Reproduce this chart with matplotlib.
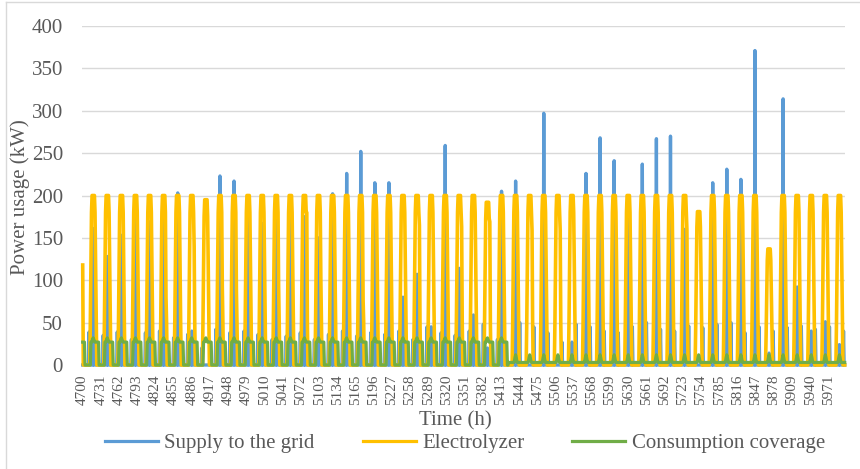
import numpy as np
import matplotlib.pyplot as plt
from matplotlib.lines import Line2D

plt.rcParams['font.family'] = ['Liberation Serif', 'DejaVu Serif']

# hourly axis
hours = np.arange(4700, 6000)

# values per day, first entry = day before 4700, then one per midday pulse
grid_peak = [0, 161, 128, 153, 183, 169, 193, 203, 40, 0, 223,
             217, 195, 167, 171, 195, 175, 150, 202, 226, 252,
             215, 215, 80, 107, 45, 259, 114, 59, 20, 205,
             217, 0, 297, 0, 27, 226, 268, 241, 172, 237,
             267, 270, 160, 0, 215, 231, 219, 371, 14, 314,
             92, 40, 51, 24]
grid_blip = [0, 39, 35, 39, 30, 38, 40, 32, 36, 20, 42,
             38, 40, 36, 30, 34, 38, 30, 36, 40, 34,
             38, 36, 40, 30, 45, 38, 35, 40, 48, 30,
             50, 45, 38, 27, 48, 45, 40, 38, 45, 50,
             42, 40, 46, 44, 48, 50, 38, 45, 40, 44,
             46, 42, 45, 40]
electro_peak = [200, 200, 200, 200, 200, 200, 200, 200, 200, 195, 200,
                200, 200, 200, 200, 200, 200, 200, 200, 200, 200,
                200, 200, 200, 200, 200, 200, 200, 200, 192, 200,
                200, 200, 200, 200, 200, 200, 200, 200, 200, 200,
                200, 200, 200, 181, 200, 200, 200, 200, 137, 200,
                200, 200, 200, 200]
electro_tail = [0, 0, 0, 114, 0, 0, 80, 110, 140, 0, 92,
                88, 0, 0, 92, 0, 180, 100, 0, 0, 77,
                0, 0, 0, 165, 0, 0, 163, 0, 169, 0,
                0, 159, 0, 159, 120, 0, 0, 0, 0, 0,
                0, 0, 160, 0, 0, 0, 0, 0, 0, 0,
                0, 0, 0, 0]
electro_head = [118]

# electrolyzer ramp (share of the peak) for hours -6..-3 and +3..+6
ramp_up = [0, 0.25, 0.6, 0.9]
ramp_down = [0.9, 0.6, 0.25, 0]

# consumption coverage shape around the midday pulse (hour -12 .. +11)
cover_early = [0, 0, 0, 0, 0, 0, 0, 0, 27, 27, 28, 31, 32, 30, 28, 27,
               27, 27, 27, 27, 27, 27, 0, 0]
cover_late = [3, 3, 3, 3, 3, 3, 3, 3, 3, 3, 5, 9, 12, 9, 5, 3,
              3, 3, 3, 3, 3, 3, 3, 3]
early_days = 30

supply = np.zeros(len(hours))
electro = np.zeros(len(hours))
cover = np.zeros(len(hours))
for i, h in enumerate(hours):
    rel = h - 4700
    k = (rel - 6) // 24
    d = rel - 18 - 24 * k
    j = k + 1
    p = electro_peak[j]
    t = electro_tail[j]
    if -2 <= d <= 2:
        electro[i] = p
    elif -6 <= d <= -3:
        electro[i] = p * ramp_up[d + 6]
    elif 3 <= d <= 6:
        electro[i] = p * ramp_down[d - 3]
        if d == 4 and t:
            electro[i] = t
    if d == 0:
        supply[i] = grid_peak[j]
    if (k < early_days and d == -7) or (k >= early_days and d == 7):
        supply[i] = grid_blip[j]
    if k < early_days:
        cover[i] = cover_early[d + 12]
    else:
        cover[i] = cover_late[d + 12]
electro[:len(electro_head)] = electro_head

txt = '#595959'
fig = plt.figure(figsize=(8.6, 4.69), dpi=100)
ax = fig.add_axes([82.4 / 860, 1 - 365 / 469, (845 - 82.4) / 860, (365 - 26) / 469])
ax.plot(hours, supply, color='#5B9BD5', lw=2.4, label='Supply to the grid', clip_on=False,
        solid_joinstyle='round')
ax.plot(hours, electro, color='#FFC000', lw=2.6, label='Electrolyzer', clip_on=False,
        solid_joinstyle='round')
ax.plot(hours, cover, color='#70AD47', lw=2.3, label='Consumption coverage', clip_on=False,
        solid_joinstyle='round')

ax.set_xlim(hours[0] - 0.5, hours[-1] + 0.5)
ax.set_ylim(0, 400)
ax.set_yticks(range(0, 401, 50))
ax.set_xticks(range(4700, 6000, 31))
ax.set_xticklabels([str(v) for v in range(4700, 6000, 31)], rotation=90)
ax.grid(axis='y', color='#D9D9D9', lw=1)
ax.set_axisbelow(True)
for s in ax.spines.values():
    s.set_visible(False)
ax.tick_params(axis='y', length=0, pad=14, labelsize=15, labelcolor=txt)
ax.tick_params(axis='x', length=0, pad=7, labelsize=11, labelcolor=txt)

fig.text(20 / 860, 1 - 197 / 469, 'Power usage (kW)', rotation=90, ha='center', va='center',
         fontsize=15, color=txt)
fig.text(455 / 860, 1 - 421 / 469, 'Time (h)', ha='center', va='center', fontsize=15, color=txt)
leg = fig.legend(loc='center', bbox_to_anchor=(465 / 860, 1 - 443 / 469), ncol=3, frameon=False,
                 fontsize=15, handlelength=2.55, handletextpad=0.3, columnspacing=2.3)
for t in leg.get_texts():
    t.set_color(txt)
for l in leg.get_lines():
    l.set_linewidth(2.3)

fig.add_artist(Line2D([6 / 860, 6 / 860], [0, 1 - 2 / 469], transform=fig.transFigure, color='#D9D9D9', lw=1))
fig.add_artist(Line2D([6 / 860, 1], [1 - 2 / 469, 1 - 2 / 469], transform=fig.transFigure, color='#D9D9D9', lw=1))

fig.savefig('out.png', dpi=100)
